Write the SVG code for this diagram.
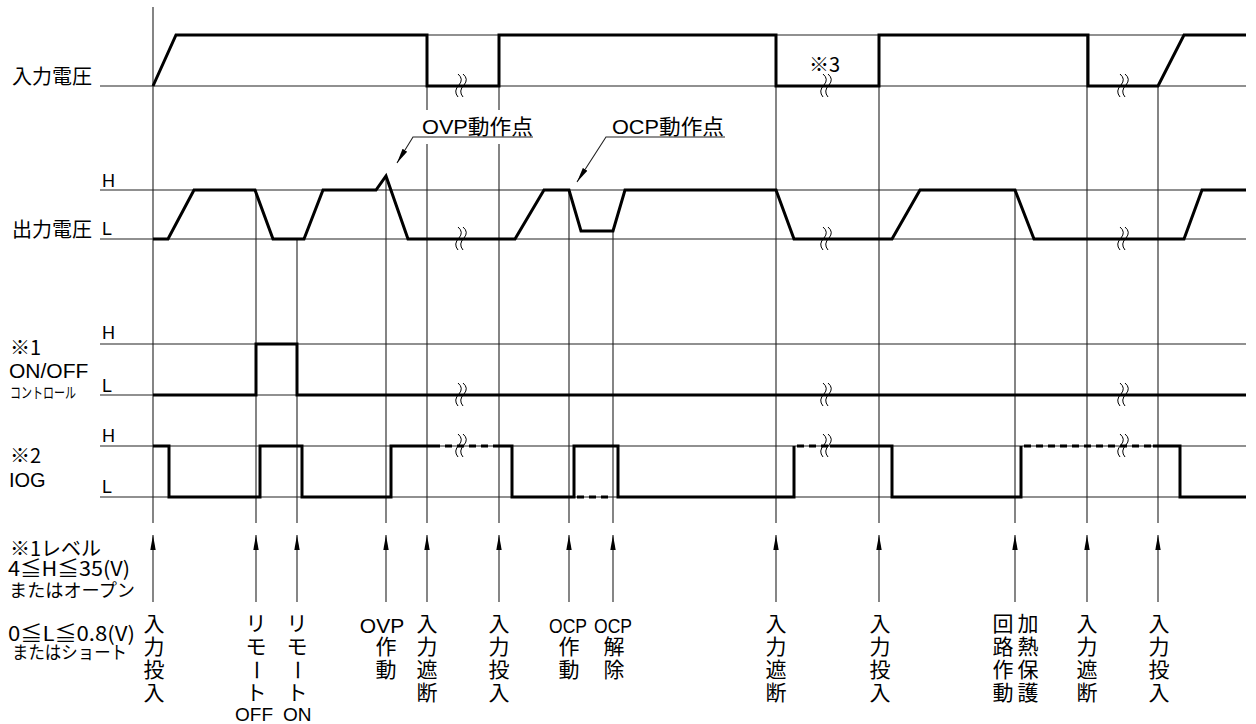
<svg xmlns="http://www.w3.org/2000/svg" width="1256" height="724" viewBox="0 0 1256 724">
<style>
.thin{stroke:#222;stroke-width:1.1;fill:none}
.wave{stroke:#000;stroke-width:3;fill:none;stroke-linejoin:miter}
.dash{stroke:#000;stroke-width:3;fill:none;stroke-dasharray:7 5}
.brk{stroke:#000;stroke-width:1;fill:none}
.jp{font-family:"Noto Sans CJK JP","Noto Sans",sans-serif;fill:#000}
.en{font-family:"Liberation Sans","Noto Sans CJK JP",sans-serif;fill:#000}
.ev{font-family:"Noto Sans CJK JP","Noto Sans",sans-serif;font-size:21px;text-anchor:middle;fill:#000}
.evn{font-family:"Liberation Sans","Noto Sans CJK JP",sans-serif;font-size:21px;text-anchor:middle;fill:#000}
</style>
<defs>
<marker id="arr" markerWidth="16" markerHeight="8" refX="15" refY="4" orient="auto" markerUnits="userSpaceOnUse">
<path d="M0,1.3 L15,4 L0,6.7 Z" fill="#000"/>
</marker>
<path id="brkS" d="M-2,-12 q6,5 1,11 q-6,6 -1,12 M3,-12 q6,5 1,11 q-6,6 -1,12"/>
</defs>

<g id="grid">
<path class="thin" d="M176,35 H1246 M100,86 H1246 M100,190 H1246 M100,239 H1246 M100,344 H1246 M100,395 H1246 M100,446 H1246 M100,497 H1246"/>
<path class="thin" d="M153,7 V523 M256,190 V523 M297,239 V523 M386,176 V523 M427,86 V110 M427,144 V523 M499,35 V110 M499,144 V523 M569,190 V523 M613,231 V523 M776,35 V523 M879,35 V523 M1015,190 V523 M1087,35 V523 M1158,86 V523"/>
</g>

<g id="row-input">
<text class="jp" x="12" y="84" font-size="20">入力電圧</text>
<path class="wave" d="M153,86 L176,35 H427 V86 H499 V35 H776 V86 H879 V35 H1088 V86 H1158 L1184,35 H1246"/>
<text class="jp" x="809" y="72" font-size="20">※3</text>
</g>

<g id="row-output">
<text class="en" x="102" y="187" font-size="18">H</text>
<text class="jp" x="12" y="237" font-size="20">出力電圧</text>
<text class="en" x="102" y="235" font-size="18">L</text>
<path class="wave" d="M153,239 H168 L194,190 H255 L273,239 H304 L323,190 H376 L386,176 L408,239 H515 L544,190 H569 L581,231 H613 L625,190 H776 L794,239 H892 L920,190 H1015 L1034,239 H1184 L1202,190 H1246"/>
</g>

<g id="row-onoff">
<text class="en" x="102" y="339" font-size="18">H</text>
<text class="jp" x="10" y="355" font-size="20">※1</text>
<text class="en" x="9" y="378" font-size="21">ON/OFF</text>
<text class="jp" x="10" y="398" font-size="15" textLength="66" lengthAdjust="spacingAndGlyphs">コントロール</text>
<text class="en" x="102" y="392" font-size="18">L</text>
<path class="wave" d="M153,395 H256 V344 H297 V395 H1246"/>
</g>

<g id="row-iog">
<text class="en" x="102" y="442" font-size="18">H</text>
<text class="jp" x="10" y="463" font-size="20">※2</text>
<text class="en" x="9" y="487" font-size="20">IOG</text>
<text class="en" x="102" y="493" font-size="18">L</text>
<path class="wave" d="M153,446 H169 V497 H260 V446 H302 V497 H391 V446 H433"/>
<path class="dash" d="M433,446 H493"/>
<path class="wave" d="M493,446 H512 V497 H574 V446 H618 V497 H794 V446"/>
<path class="dash" d="M577,497 H613"/>
<path class="dash" d="M797,446 H830"/>
<path class="wave" d="M830,446 H892 V497 H1021 V446"/>
<path class="dash" d="M1024,446 H1153"/>
<path class="wave" d="M1153,446 H1180 V497 H1246"/>
</g>

<g id="breaks" class="brk">
<use href="#brkS" x="460" y="86"/><use href="#brkS" x="825" y="86"/><use href="#brkS" x="1122" y="86"/>
<use href="#brkS" x="460" y="239"/><use href="#brkS" x="825" y="239"/><use href="#brkS" x="1122" y="239"/>
<use href="#brkS" x="460" y="395"/><use href="#brkS" x="825" y="395"/><use href="#brkS" x="1122" y="395"/>
<use href="#brkS" x="460" y="446"/><use href="#brkS" x="825" y="446"/><use href="#brkS" x="1122" y="446"/>
</g>

<g id="callout-ovp">
<text class="en" x="422" y="134" font-size="21" textLength="111" lengthAdjust="spacingAndGlyphs">OVP<tspan class="jp">動作点</tspan></text>
<path class="thin" d="M533,137 H413 L397,163" marker-end="url(#arr)"/>
</g>
<g id="callout-ocp">
<text class="en" x="612" y="134" font-size="21" textLength="112" lengthAdjust="spacingAndGlyphs">OCP<tspan class="jp">動作点</tspan></text>
<path class="thin" d="M725,137 H606 L577,182" marker-end="url(#arr)"/>
</g>

<g id="levels-note">
<text class="jp" x="10" y="556" font-size="20">※1レベル</text>
<text class="jp" x="8" y="576" font-size="20" textLength="122" lengthAdjust="spacingAndGlyphs">4≦H≦35(V)</text>
<text class="jp" x="9" y="597" font-size="18" textLength="126" lengthAdjust="spacingAndGlyphs">またはオープン</text>
<text class="jp" x="8" y="641" font-size="20" textLength="127" lengthAdjust="spacingAndGlyphs">0≦L≦0.8(V)</text>
<text class="jp" x="12" y="659" font-size="18" textLength="115" lengthAdjust="spacingAndGlyphs">またはショート</text>
</g>

<g id="connectors" class="thin">
<line x1="153" y1="602" x2="153" y2="535" marker-end="url(#arr)"/>
<line x1="256" y1="602" x2="256" y2="535" marker-end="url(#arr)"/>
<line x1="297" y1="602" x2="297" y2="535" marker-end="url(#arr)"/>
<line x1="386" y1="602" x2="386" y2="535" marker-end="url(#arr)"/>
<line x1="427" y1="602" x2="427" y2="535" marker-end="url(#arr)"/>
<line x1="499" y1="602" x2="499" y2="535" marker-end="url(#arr)"/>
<line x1="569" y1="602" x2="569" y2="535" marker-end="url(#arr)"/>
<line x1="613" y1="602" x2="613" y2="535" marker-end="url(#arr)"/>
<line x1="776" y1="602" x2="776" y2="535" marker-end="url(#arr)"/>
<line x1="879" y1="602" x2="879" y2="535" marker-end="url(#arr)"/>
<line x1="1015" y1="602" x2="1015" y2="535" marker-end="url(#arr)"/>
<line x1="1087" y1="602" x2="1087" y2="535" marker-end="url(#arr)"/>
<line x1="1158" y1="602" x2="1158" y2="535" marker-end="url(#arr)"/>
</g>

<g id="ev-153"><text class="ev" x="154" y="631">入</text><text class="ev" x="154" y="654">力</text><text class="ev" x="154" y="677">投</text><text class="ev" x="154" y="700">入</text></g>
<g id="ev-256"><text class="ev" x="256" y="631">リ</text><text class="ev" x="256" y="654">モ</text><text class="ev" x="256" y="677" transform="rotate(90 256 670)">ー</text><text class="ev" x="256" y="700">ト</text><text class="en" x="235" y="721" font-size="19">OFF</text></g>
<g id="ev-297"><text class="ev" x="297" y="631">リ</text><text class="ev" x="297" y="654">モ</text><text class="ev" x="297" y="677" transform="rotate(90 297 670)">ー</text><text class="ev" x="297" y="700">ト</text><text class="en" x="283" y="721" font-size="19">ON</text></g>
<g id="ev-386"><text class="evn" x="382" y="633">OVP</text><text class="ev" x="386" y="654">作</text><text class="ev" x="386" y="677">動</text></g>
<g id="ev-427"><text class="ev" x="427" y="631">入</text><text class="ev" x="427" y="654">力</text><text class="ev" x="427" y="677">遮</text><text class="ev" x="427" y="700">断</text></g>
<g id="ev-499"><text class="ev" x="499" y="631">入</text><text class="ev" x="499" y="654">力</text><text class="ev" x="499" y="677">投</text><text class="ev" x="499" y="700">入</text></g>
<g id="ev-569"><text class="evn" x="568" y="633" textLength="38" lengthAdjust="spacingAndGlyphs">OCP</text><text class="ev" x="569" y="654">作</text><text class="ev" x="569" y="677">動</text></g>
<g id="ev-613"><text class="evn" x="613" y="633" textLength="38" lengthAdjust="spacingAndGlyphs">OCP</text><text class="ev" x="614" y="654">解</text><text class="ev" x="614" y="677">除</text></g>
<g id="ev-776"><text class="ev" x="776" y="631">入</text><text class="ev" x="776" y="654">力</text><text class="ev" x="776" y="677">遮</text><text class="ev" x="776" y="700">断</text></g>
<g id="ev-879"><text class="ev" x="880" y="631">入</text><text class="ev" x="880" y="654">力</text><text class="ev" x="880" y="677">投</text><text class="ev" x="880" y="700">入</text></g>
<g id="ev-1015"><text class="ev" x="1003" y="631">回</text><text class="ev" x="1003" y="654">路</text><text class="ev" x="1003" y="677">作</text><text class="ev" x="1003" y="700">動</text><text class="ev" x="1028" y="631">加</text><text class="ev" x="1028" y="654">熱</text><text class="ev" x="1028" y="677">保</text><text class="ev" x="1028" y="700">護</text></g>
<g id="ev-1087"><text class="ev" x="1087" y="631">入</text><text class="ev" x="1087" y="654">力</text><text class="ev" x="1087" y="677">遮</text><text class="ev" x="1087" y="700">断</text></g>
<g id="ev-1158"><text class="ev" x="1159" y="631">入</text><text class="ev" x="1159" y="654">力</text><text class="ev" x="1159" y="677">投</text><text class="ev" x="1159" y="700">入</text></g>
</svg>
